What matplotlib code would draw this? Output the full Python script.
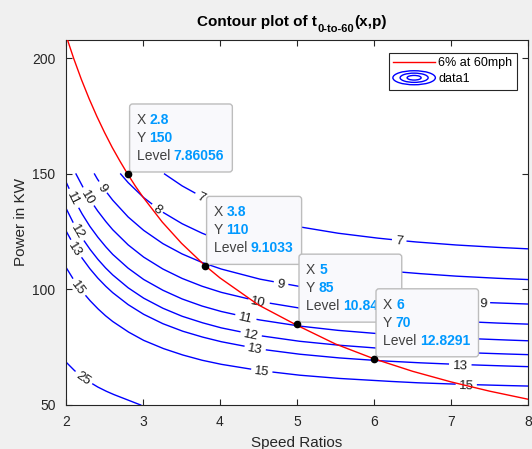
import numpy as np
import matplotlib
matplotlib.use("Agg")
import matplotlib.pyplot as plt
from matplotlib.patches import Ellipse, FancyBboxPatch
from matplotlib.legend_handler import HandlerBase
from matplotlib.lines import Line2D
from matplotlib.transforms import IdentityTransform

plt.rcParams['font.family'] = ['Liberation Sans', 'DejaVu Sans']

# Konturlinien t_0-to-60 (x = Speed Ratio, p = Power in KW)
levels = [7, 8, 9, 10, 11, 12, 13, 15, 25]
x_nodes = [2.0, 2.1, 2.2, 2.3, 2.4, 2.5, 2.6, 2.8, 3.0, 3.25, 3.5, 3.75, 4.0,
           4.5, 5.0, 5.5, 6.0, 6.5, 7.0, 7.5, 8.0]

c7_x = [3.28, 3.5, 3.75, 4.0, 4.5, 5.0, 5.5, 6.0, 6.5, 7.0, 7.5, 8.0]
c7_p = [150.0, 145.0, 140.4, 136.8, 131.2, 127.3, 124.5, 122.4, 120.7, 119.4, 118.4, 117.6]
c8_x = [2.71, 2.8, 3.0, 3.25, 3.5, 3.75, 4.0, 4.5, 5.0, 5.5, 6.0, 6.5, 7.0, 7.5, 8.0]
c8_p = [150.0, 146.5, 140.0, 133.6, 128.6, 124.6, 121.3, 116.4, 112.9, 110.4, 108.5, 107.1,
        105.9, 105.0, 104.3]
c9_x = [2.37, 2.4, 2.5, 2.6, 2.8, 3.0, 3.25, 3.5, 3.75, 4.0, 4.5, 5.0, 5.5, 6.0, 6.5, 7.0,
        7.5, 8.0]
c9_p = [150.0, 148.2, 143.3, 138.9, 131.6, 125.8, 120.0, 115.5, 111.9, 109.0, 104.6, 101.5,
        99.2, 97.5, 96.2, 95.2, 94.3, 93.7]
c10_x = [2.13, 2.2, 2.3, 2.4, 2.5, 2.6, 2.8, 3.0, 3.25, 3.5, 3.75, 4.0, 4.5, 5.0, 5.5, 6.0,
         6.5, 7.0, 7.5, 8.0]
c10_p = [150.0, 145.5, 139.6, 134.5, 130.1, 126.1, 119.5, 114.2, 109.0, 104.9, 101.6, 98.9,
         94.9, 92.1, 90.0, 88.5, 87.3, 86.4, 85.6, 85.0]
c11_p = [146.6, 139.4, 133.2, 127.8, 123.2, 119.1, 115.4, 109.4, 104.5, 99.8, 96.0, 93.0,
         90.6, 86.9, 84.3, 82.4, 81.0, 79.9, 79.1, 78.4, 77.8]
c12_p = [135.2, 128.5, 122.8, 117.9, 113.6, 109.8, 106.5, 100.9, 96.4, 92.0, 88.5, 85.8,
         83.5, 80.1, 77.7, 76.0, 74.7, 73.7, 72.9, 72.3, 71.8]
c13_p = [125.4, 119.3, 114.0, 109.4, 105.4, 101.9, 98.8, 93.6, 89.4, 85.3, 82.1, 79.6,
         77.5, 74.3, 72.1, 70.5, 69.3, 68.4, 67.7, 67.1, 66.6]
c15_p = [109.6, 104.2, 99.6, 95.6, 92.1, 89.0, 86.3, 81.8, 78.1, 74.6, 71.8, 69.5,
         67.7, 65.0, 63.0, 61.6, 60.6, 59.7, 59.1, 58.6, 58.2]
c25_x = [2.0, 2.1, 2.2, 2.3, 2.4, 2.5, 2.6, 2.8, 2.97]
c25_p = [68.6, 65.2, 62.4, 60.1, 58.0, 56.3, 54.8, 52.2, 50.0]

contour_lines = {7: (c7_x, c7_p), 8: (c8_x, c8_p), 9: (c9_x, c9_p), 10: (c10_x, c10_p),
                 11: (x_nodes, c11_p), 12: (x_nodes, c12_p), 13: (x_nodes, c13_p),
                 15: (x_nodes, c15_p), 25: (c25_x, c25_p)}

# Beschriftungen (x-Position auf der jeweiligen Linie)
label_spots = {7: [3.76, 6.33], 8: [3.19], 9: [2.48, 4.79, 7.42], 10: [2.29, 4.5],
               11: [2.1, 4.33], 12: [2.16, 4.41], 13: [2.13, 4.46, 7.12],
               15: [2.17, 4.54, 7.2], 25: [2.23]}

# rote Kurve "6% at 60mph"
red_x = [2.0, 2.1, 2.2, 2.3, 2.4, 2.5, 2.6, 2.7, 2.8, 2.9, 3.0, 3.25, 3.5, 3.8, 4.0,
         4.5, 5.0, 5.5, 6.0, 6.5, 7.0, 7.5, 8.0]
red_p = [210, 200, 190.9, 182.6, 175, 168, 161.5, 155.6, 150, 144.8, 140, 129.2, 120,
         110.5, 105, 93.3, 84.5, 76.4, 70, 64.6, 60, 56, 52.5]

# Datatips
tip_x = [2.8, 3.8, 5, 6]
tip_p = [150, 110, 85, 70]
tip_level = ["7.86056", "9.1033", "10.8418", "12.8291"]

fig = plt.figure(figsize=(5.32, 4.49), dpi=100)
fig.patch.set_facecolor('#f0f0f0')
ax = fig.add_axes([66 / 532, 44 / 449, 462 / 532, 365 / 449])
ax.set_xlim(2, 8)
ax.set_ylim(50, 208)
renderer = fig.canvas.get_renderer()

for L in levels:
    xs = np.array(contour_lines[L][0], dtype=float)
    ps = np.array(contour_lines[L][1], dtype=float)
    centers, halfw = [], []
    for lx in label_spots[L]:
        lp = np.interp(lx, xs, ps)
        a1 = ax.transData.transform((lx - 0.02, np.interp(lx - 0.02, xs, ps)))
        a2 = ax.transData.transform((lx + 0.02, np.interp(lx + 0.02, xs, ps)))
        ang = np.degrees(np.arctan2(a2[1] - a1[1], a2[0] - a1[0]))
        ax.text(lx, lp, str(L), rotation=ang, rotation_mode='anchor', ha='center',
                va='center_baseline', fontsize=9.5, color='#1a1a1a', zorder=3)
        centers.append(ax.transData.transform((lx, lp)))
        halfw.append(3.7 * len(str(L)) + 3.5)
    # Lücke für die Beschriftung
    pts = ax.transData.transform(np.column_stack([xs, ps]))
    dense = [pts[0]]
    for p1, p2 in zip(pts[:-1], pts[1:]):
        dense.extend(np.linspace(p1, p2, 30)[1:])
    dense = np.array(dense)
    for (cx, cy), hw in zip(centers, halfw):
        d = np.hypot(dense[:, 0] - cx, dense[:, 1] - cy)
        dense[d < hw] = np.nan
    dd = ax.transData.inverted().transform(dense)
    ax.plot(dd[:, 0], dd[:, 1], color='blue', lw=1.0, zorder=2)

ax.plot(red_x, red_p, color='red', lw=1.0, zorder=4)

# Datatips zeichnen
for i in range(len(tip_x)):
    px, py = ax.transData.transform((tip_x[i], tip_p[i]))
    bx, by = px + 2, py + 2
    z = 10 + i
    rows = [("X", f"{tip_x[i]:g}"), ("Y", f"{tip_p[i]:g}"), ("Level", tip_level[i])]
    wmax = 0
    for k, (lab, val) in enumerate(rows):
        yy = by + 52 - 18 * k
        t1 = ax.text(bx + 7, yy, lab + " ", transform=IdentityTransform(), fontsize=10,
                     color='#404040', va='center', ha='left', zorder=z + 0.5)
        w1 = t1.get_window_extent(renderer).width
        t2 = ax.text(bx + 7 + w1, yy, val, transform=IdentityTransform(), fontsize=10,
                     color='#0099ff', fontweight='bold', va='center', ha='left', zorder=z + 0.5)
        wmax = max(wmax, w1 + t2.get_window_extent(renderer).width)
    box = FancyBboxPatch((bx, by), wmax + 15, 68, boxstyle='round,pad=0,rounding_size=3',
                         transform=IdentityTransform(), fc='#f9f9fc', ec='#bdbdbd', lw=1,
                         zorder=z)
    box.set_clip_on(False)
    ax.add_artist(box)
ax.plot(tip_x, tip_p, 'o', color='black', ms=4.5, zorder=20)


class ContourHandler(HandlerBase):
    def create_artists(self, legend, orig, xd, yd, width, height, fontsize, trans):
        cx, cy = xd + width / 2, yd + height / 2
        arts = []
        for f in (1.0, 0.66, 0.33):
            arts.append(Ellipse((cx, cy), width * f, height * 1.6 * f, fill=False,
                                edgecolor='blue', lw=1, transform=trans))
        return arts


red_h = Line2D([], [], color='red', lw=1)
cont_h = Line2D([], [], color='blue')
leg = ax.legend([red_h, cont_h], ['6% at 60mph', 'data1'],
                handler_map={cont_h: ContourHandler()}, loc='upper right',
                bbox_to_anchor=(517 / 532, 1 - 53 / 449), bbox_transform=fig.transFigure,
                borderaxespad=0, fontsize=9, handlelength=3.4, handletextpad=0.25,
                labelspacing=0.3, borderpad=0.35, fancybox=False, framealpha=1)
leg.get_frame().set_edgecolor('#262626')
leg.get_frame().set_linewidth(0.8)
leg.set_zorder(30)

ax.tick_params(direction='in', top=True, right=True, length=4, labelsize=10,
               colors='#262626', pad=7.5)
ax.set_xticks([2, 3, 4, 5, 6, 7, 8])
ax.set_yticks([50, 100, 150, 200])
for s in ax.spines.values():
    s.set_color('#262626')
    s.set_linewidth(0.8)
ax.set_xlabel('Speed Ratios', fontsize=11, color='#262626', labelpad=4.5)
ax.set_ylabel('Power in KW', fontsize=11, color='#262626', labelpad=3)

# Titel mit Index
parts = [("Contour plot of t", 11, 0), ("0-to-60", 8, -6), ("(x,p)", 11, 0)]
widths = []
tx = []
for s, fs, dy in parts:
    t = fig.text(0, 0, s, fontsize=fs, fontweight='bold', color='black')
    widths.append(t.get_window_extent(renderer).width)
    tx.append(t)
x0 = 292 - sum(widths) / 2
for t, w, (s, fs, dy) in zip(tx, widths, parts):
    t.set_position((x0 / 532, (449 - 26 + dy) / 449))
    t.set_va('baseline')
    x0 += w

fig.savefig('out.png', dpi=100, facecolor=fig.get_facecolor())
